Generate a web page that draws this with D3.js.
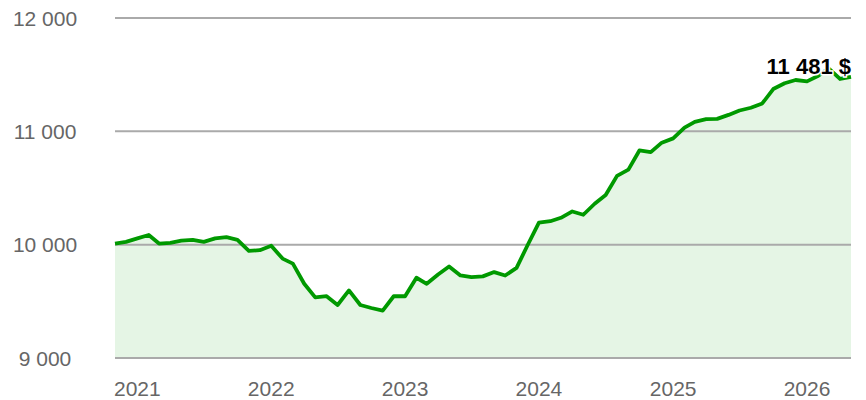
<!DOCTYPE html>
<html>
<head>
<meta charset="utf-8">
<script src="https://cdn.jsdelivr.net/npm/d3@7"></script>
<style>
  html, body { margin: 0; padding: 0; background: #fff; }
  svg { display: block; font-family: "Liberation Sans", Arial, sans-serif; }
</style>
</head>
<body>
<svg id="chart" width="866" height="400"></svg>
<script>
// Portfolio value, monthly, from November 2020 to May 2026
const startMonth = "2020-11-01";
const values = [
  10010, 10025, 10055, 10085, 10010, 10015, 10035, 10043, 10025, 10055, 10067, 10043,
  9945, 9951, 9990, 9877, 9833, 9655, 9535, 9545, 9468, 9596, 9468, 9441,
  9418, 9545, 9545, 9708, 9655, 9737, 9808, 9728, 9713, 9720, 9758, 9728,
  9795, 9995, 10195, 10207, 10237, 10293, 10264, 10361, 10438, 10607, 10662, 10831,
  10816, 10900, 10938, 11033, 11083, 11107, 11110, 11145, 11184, 11208, 11246, 11373,
  11424, 11453, 11441, 11490, 11555, 11462, 11481
];
const yTicks = [9000, 10000, 11000, 12000];
const yearTicks = [2021, 2022, 2023, 2024, 2025, 2026];
const endLabel = "11 481 $";

const svg = d3.select("#chart");
const plot = { left: 115, right: 851, top: 18, bottom: 358 };

const start = new Date(startMonth + "T00:00:00");
const data = values.map((v, i) => ({ date: d3.timeMonth.offset(start, i), value: v }));

const x = d3.scaleTime()
  .domain([data[0].date, data[data.length - 1].date])
  .range([plot.left, plot.right]);
const y = d3.scaleLinear().domain([9000, 12000]).range([plot.bottom, plot.top]);

const fmt = v => d3.format(",")(v).replace(/,/g, " ");

// filled area under the curve
svg.append("path")
  .datum(data)
  .attr("d", d3.area().x(d => x(d.date)).y0(y(9000)).y1(d => y(d.value)))
  .attr("fill", "rgba(0,153,0,0.1)");

// horizontal grid
svg.append("g")
  .selectAll("line")
  .data(yTicks)
  .join("line")
  .attr("x1", plot.left).attr("x2", plot.right)
  .attr("y1", d => y(d)).attr("y2", d => y(d))
  .attr("stroke", "#aaaaaa")
  .attr("stroke-width", 2);

// y labels
svg.append("g")
  .selectAll("text")
  .data(yTicks)
  .join("text")
  .attr("x", 45)
  .attr("y", d => y(d))
  .attr("dy", "0.36em")
  .attr("text-anchor", "middle")
  .attr("font-size", 21)
  .attr("fill", "#666")
  .text(fmt);

// x labels at the start of each year
svg.append("g")
  .selectAll("text")
  .data(yearTicks)
  .join("text")
  .attr("x", d => x(new Date(d, 0, 1)))
  .attr("y", 396)
  .attr("text-anchor", "middle")
  .attr("font-size", 21)
  .attr("fill", "#666")
  .text(d => d);

// value line
svg.append("path")
  .datum(data)
  .attr("d", d3.line().x(d => x(d.date)).y(d => y(d.value)))
  .attr("fill", "none")
  .attr("stroke", "#009900")
  .attr("stroke-width", 3.8)
  .attr("stroke-linejoin", "round");

// last value label
const last = data[data.length - 1];
svg.append("text")
  .attr("x", x(last.date))
  .attr("y", y(last.value) - 3)
  .attr("text-anchor", "end")
  .attr("font-size", 22)
  .attr("font-weight", "bold")
  .attr("fill", "#000")
  .attr("stroke", "#fff")
  .attr("stroke-width", 3)
  .attr("paint-order", "stroke")
  .text(endLabel);
</script>
</body>
</html>
